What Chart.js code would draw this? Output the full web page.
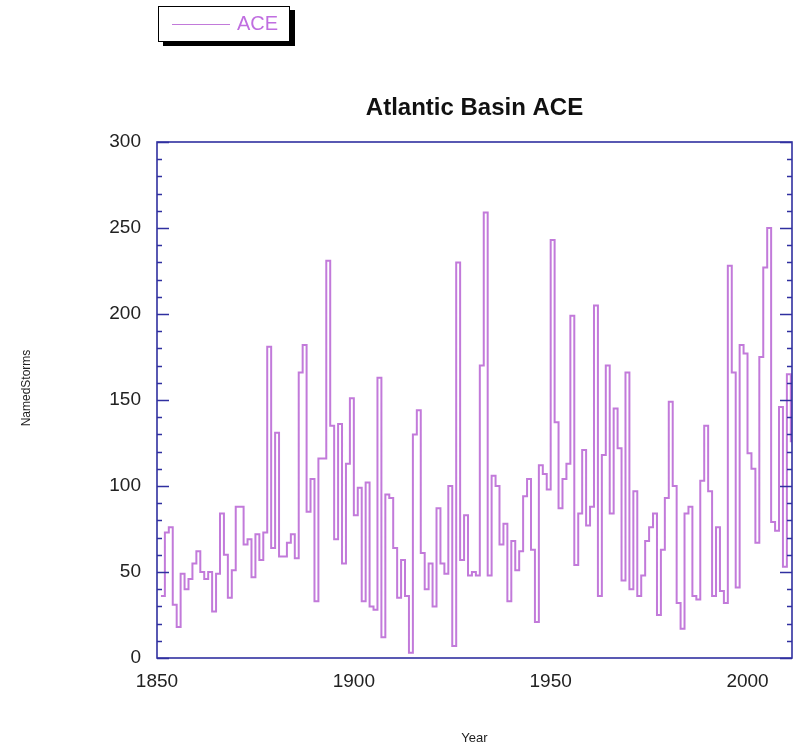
<!DOCTYPE html>
<html>
<head>
<meta charset="utf-8">
<script src="https://cdn.jsdelivr.net/npm/chart.js@4/dist/chart.umd.min.js"></script>
<style>
  html, body { margin: 0; padding: 0; background: #fff; }
  #wrap { position: relative; width: 796px; height: 745px; }
  #legend {
    position: absolute; left: 158px; top: 6px; width: 130px; height: 34px;
    border: 1px solid #000; background: #fff; box-shadow: 5px 4px 0 #000;
    font-family: "Liberation Sans", Arial, sans-serif;
  }
  #legend .ln { position: absolute; left: 13px; top: 17px; width: 58px; height: 0; border-top: 1.5px solid #c27ada; }
  #legend .tx { position: absolute; left: 78px; top: 5px; font-size: 20px; color: #c06ee0; }
</style>
</head>
<body>
<div id="wrap">
  <canvas id="c" width="796" height="745"></canvas>
  <div id="legend"><div class="ln"></div><div class="tx">ACE</div></div>
</div>
<script>
const years = [];
for (let y = 1851; y <= 2011; y++) years.push(y);

const aceValues = [
  36, 73, 76, 31, 18, 49, 40, 46, 55, 62,      // 1851-1860
  50, 46, 50, 27, 49, 84, 60, 35, 51, 88,      // 1861-1870
  88, 66, 69, 47, 72, 57, 73, 181, 64, 131,    // 1871-1880
  59, 59, 67, 72, 58, 166, 182, 85, 104, 33,   // 1881-1890
  116, 116, 231, 135, 69, 136, 55, 113, 151, 83, // 1891-1900
  99, 33, 102, 30, 28, 163, 12, 95, 93, 64,    // 1901-1910
  35, 57, 36, 3, 130, 144, 61, 40, 55, 30,     // 1911-1920
  87, 55, 49, 100, 7, 230, 57, 83, 48, 50,     // 1921-1930
  48, 170, 259, 48, 106, 100, 66, 78, 33, 68,  // 1931-1940
  51, 62, 94, 104, 63, 21, 112, 107, 98, 243,  // 1941-1950
  137, 87, 104, 113, 199, 54, 84, 121, 77, 88, // 1951-1960
  205, 36, 118, 170, 84, 145, 122, 45, 166, 40, // 1961-1970
  97, 36, 48, 68, 76, 84, 25, 63, 93, 149,     // 1971-1980
  100, 32, 17, 84, 88, 36, 34, 103, 135, 97,   // 1981-1990
  36, 76, 39, 32, 228, 166, 41, 182, 177, 119, // 1991-2000
  110, 67, 175, 227, 250, 79, 74, 146, 53, 165, // 2001-2010
  126                                          // 2011
];

const xTickValues = [1850, 1900, 1950, 2000];
const yTickValues = [0, 50, 100, 150, 200, 250, 300];

const points = years.map((y, i) => ({ x: y, y: aceValues[i] }));
// closing point so the last year's step is drawn to the frame edge
points.push({ x: years[years.length - 1] + 1, y: aceValues[aceValues.length - 1] });

const FONT = '"Liberation Sans", Arial, Helvetica, sans-serif';
const FRAME = '#3030a0';

const decor = {
  id: 'decor',
  afterDatasetsDraw(chart) {
    const { ctx, chartArea: a, scales } = chart;
    ctx.save();
    ctx.strokeStyle = FRAME;
    ctx.lineWidth = 1.6;
    ctx.strokeRect(a.left, a.top, a.right - a.left, a.bottom - a.top);
    const ys = scales.y;
    for (let v = 0; v <= 300; v += 10) {
      const py = Math.round(ys.getPixelForValue(v)) + 0.5;
      const len = (v % 50 === 0) ? 12 : 5;
      ctx.beginPath();
      ctx.moveTo(a.left, py); ctx.lineTo(a.left + len, py);
      ctx.moveTo(a.right, py); ctx.lineTo(a.right - len, py);
      ctx.stroke();
    }
    ctx.fillStyle = '#111';
    ctx.font = 'bold 24px ' + FONT;
    ctx.textAlign = 'center';
    ctx.textBaseline = 'alphabetic';
    ctx.fillText('Atlantic Basin ACE', (a.left + a.right) / 2, 115);
    ctx.font = '13px ' + FONT;
    ctx.fillStyle = '#222';
    ctx.textBaseline = 'middle';
    ctx.fillText('Year', (a.left + a.right) / 2, 738);
    ctx.translate(27, 388);
    ctx.rotate(-Math.PI / 2);
    ctx.font = '12px ' + FONT;
    ctx.fillText('NamedStorms', 0, 0);
    ctx.restore();
  }
};

new Chart(document.getElementById('c'), {
  type: 'line',
  data: {
    datasets: [{
      label: 'ACE',
      data: points,
      borderColor: '#c27ada',
      borderWidth: 2,
      pointRadius: 0,
      fill: false,
      stepped: true,
      tension: 0
    }]
  },
  options: {
    responsive: false,
    animation: false,
    layout: { padding: { top: 142, left: 0, right: 4, bottom: 0 } },
    plugins: { legend: { display: false }, title: { display: false }, tooltip: { enabled: false } },
    scales: {
      x: {
        type: 'linear',
        min: 1850,
        max: 2011.3,
        grid: { display: false, drawTicks: false },
        border: { display: false },
        afterFit(scale) { scale.height = 87; },
        afterBuildTicks(scale) { scale.ticks = xTickValues.map(v => ({ value: v })); },
        ticks: {
          padding: 12,
          color: '#222',
          font: { family: FONT, size: 19 },
          maxRotation: 0,
          callback: v => String(v)
        }
      },
      y: {
        type: 'linear',
        min: 0,
        max: 300,
        grid: { display: false, drawTicks: false },
        border: { display: false },
        afterFit(scale) { scale.width = 157; },
        afterBuildTicks(scale) { scale.ticks = yTickValues.map(v => ({ value: v })); },
        ticks: {
          padding: 16,
          color: '#222',
          font: { family: FONT, size: 19 },
          callback: v => String(v)
        }
      }
    }
  },
  plugins: [decor]
});
</script>
</body>
</html>
